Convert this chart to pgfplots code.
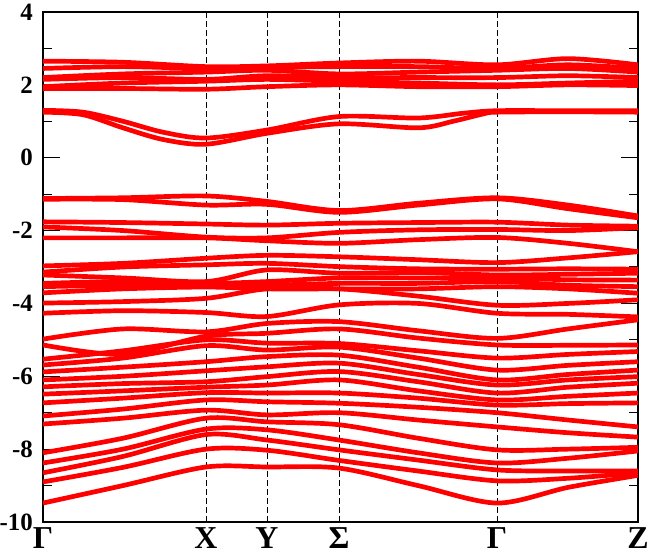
\documentclass[border=0pt]{standalone}
\usepackage{fontspec}
\setmainfont{Liberation Serif}
\usepackage{pgfplots}
\usepackage{pgfplotstable}
\pgfplotsset{compat=1.18}

% band energies (eV) at k = 0 (Gamma), 80, 163 (X), 224 (Y), 296 (Sigma), 375, 454 (Gamma), 525, 595 (Z)
\pgfplotstableread{
k   A1   A2   A3   A4   A5   A6   C1    C2    D1    D2    D3    E1    E2    E3    E4    E5    E6    L1    L2    L3    L4    L5    L6    L7    L8    L9    L10   L11   L12   L13   L14   L15   L16   L17   L18
0   2.65 2.45 2.20 2.15 1.95 1.90 -1.12 -1.14 -1.76 -1.90 -2.20 -2.97 -3.14 -3.22 -3.45 -3.54 -3.71 -3.99 -4.27 -4.98 -5.14 -5.53 -5.69 -5.88 -6.10 -6.29 -6.49 -6.73 -7.09 -7.31 -8.10 -8.38 -8.65 -8.90 -9.48
80  2.62 2.50 2.30 2.20 2.05 1.90 -1.10 -1.15 -1.78 -2.00 -2.20 -2.90 -3.00 -3.30 -3.40 -3.50 -3.60 -3.95 -4.20 -4.70 -5.40 -5.30 -5.50 -5.75 -6.00 -6.20 -6.40 -6.60 -6.90 -7.15 -7.70 -8.00 -8.20 -8.50 -9.00
163 2.50 2.45 2.35 2.15 2.10 1.88 -1.05 -1.30 -1.82 -2.18 -2.20 -2.76 -2.94 -3.40 -3.45 -3.50 -3.55 -3.86 -4.25 -4.78 -4.90 -5.00 -5.16 -5.60 -5.85 -6.15 -6.30 -6.45 -6.65 -6.93 -7.15 -7.45 -7.60 -8.00 -8.49
224 2.52 2.48 2.40 2.25 2.15 1.95 -1.20 -1.28 -1.85 -2.20 -2.28 -2.68 -2.90 -3.08 -3.40 -3.50 -3.60 -3.60 -4.36 -4.55 -4.82 -5.09 -5.28 -5.46 -5.74 -6.01 -6.24 -6.46 -6.70 -7.06 -7.25 -7.47 -7.75 -8.03 -8.49
296 2.60 2.50 2.30 2.20 2.10 2.00 -1.45 -1.50 -1.80 -2.05 -2.35 -2.72 -2.99 -3.17 -3.30 -3.45 -3.60 -3.60 -4.04 -4.50 -4.70 -5.10 -5.20 -5.42 -5.64 -5.87 -6.10 -6.46 -6.74 -7.00 -7.33 -7.75 -8.02 -8.31 -8.52
375 2.65 2.50 2.35 2.20 2.05 1.95 -1.25 -1.30 -1.78 -1.98 -2.25 -2.80 -3.05 -3.15 -3.30 -3.45 -3.60 -3.80 -4.00 -4.75 -4.95 -5.30 -5.50 -5.75 -5.95 -6.15 -6.40 -6.60 -6.85 -7.20 -7.70 -8.10 -8.30 -8.60 -9.00
454 2.55 2.45 2.40 2.20 2.00 1.95 -1.10 -1.13 -1.77 -1.97 -2.19 -2.88 -3.06 -3.22 -3.30 -3.40 -3.54 -4.05 -4.27 -4.96 -5.14 -5.50 -5.83 -6.10 -6.24 -6.46 -6.65 -6.79 -7.00 -7.39 -8.02 -8.38 -8.57 -8.87 -9.48
525 2.72 2.55 2.45 2.25 2.05 2.00 -1.30 -1.40 -1.85 -2.00 -2.35 -2.75 -3.05 -3.20 -3.35 -3.50 -3.60 -4.00 -4.30 -4.70 -5.15 -5.40 -5.70 -5.95 -6.10 -6.30 -6.55 -6.75 -7.20 -7.55 -8.00 -8.25 -8.60 -8.80 -9.05
595 2.55 2.45 2.35 2.20 2.10 1.98 -1.60 -1.65 -1.88 -1.92 -2.58 -2.58 -3.06 -3.17 -3.36 -3.54 -3.72 -3.90 -4.37 -4.45 -5.14 -5.32 -5.60 -5.83 -6.01 -6.19 -6.46 -6.73 -7.39 -7.67 -7.95 -8.05 -8.60 -8.65 -8.72
}\bands

\begin{document}
\begin{tikzpicture}
\begin{axis}[
  scale only axis, width=595bp, height=510bp,
  xmin=0, xmax=595, ymin=-10, ymax=4,
  axis line style={line width=1.6bp},
  xtick={0,163,224,296,454,595},
  xticklabels={Γ,X,Y,Σ,Γ,Z},
  xtick style={draw=none},
  xmajorgrids,
  x grid style={black, line width=0.7bp, dash pattern=on 6bp off 3bp},
  ytick={-10,-8,-6,-4,-2,0,2,4},
  yticklabels={-10,-8,-6,-4,-2,0,2,4},
  minor ytick={-9,-7,-5,-3,-1,1,3},
  ytick pos=both, yticklabel pos=left,
  tick align=inside,
  major tick length=17bp, minor tick length=9bp,
  y tick style={black, line width=1bp},
  yticklabel style={font=\fontsize{25}{30}\selectfont\bfseries, inner sep=0pt, xshift=-10bp},
  xticklabel style={font=\fontsize{32}{36}\selectfont\bfseries, inner sep=0pt, yshift=-5bp},
  band/.style={red, line width=4.7bp, smooth, no markers},
]
\pgfplotsinvokeforeach{A1,A2,A3,A4,A5,A6,C1,C2,D1,D2,D3,E1,E2,E3,E4,E5,E6,L1,L2,L3,L4,L5,L6,L7,L8,L9,L10,L11,L12,L13,L14,L15,L16,L17,L18}{
  \addplot[band] table[x=k, y=#1] {\bands};
}
\addplot[band] coordinates {(0,1.30) (40,1.25) (80,1.00) (120,0.70) (163,0.54) (224,0.76) (296,1.13) (375,1.09) (420,1.22) (454,1.29) (525,1.29) (595,1.29)};
\addplot[band] coordinates {(0,1.25) (40,1.18) (80,0.82) (120,0.50) (163,0.37) (224,0.67) (296,0.93) (375,0.82) (410,1.00) (440,1.20) (454,1.25) (525,1.26) (595,1.25)};
\end{axis}
\pgfresetboundingbox
\path ([shift={(-43bp,-34bp)}]current axis.south west) rectangle ([shift={(12bp,12bp)}]current axis.north east);
\end{tikzpicture}
\end{document}
